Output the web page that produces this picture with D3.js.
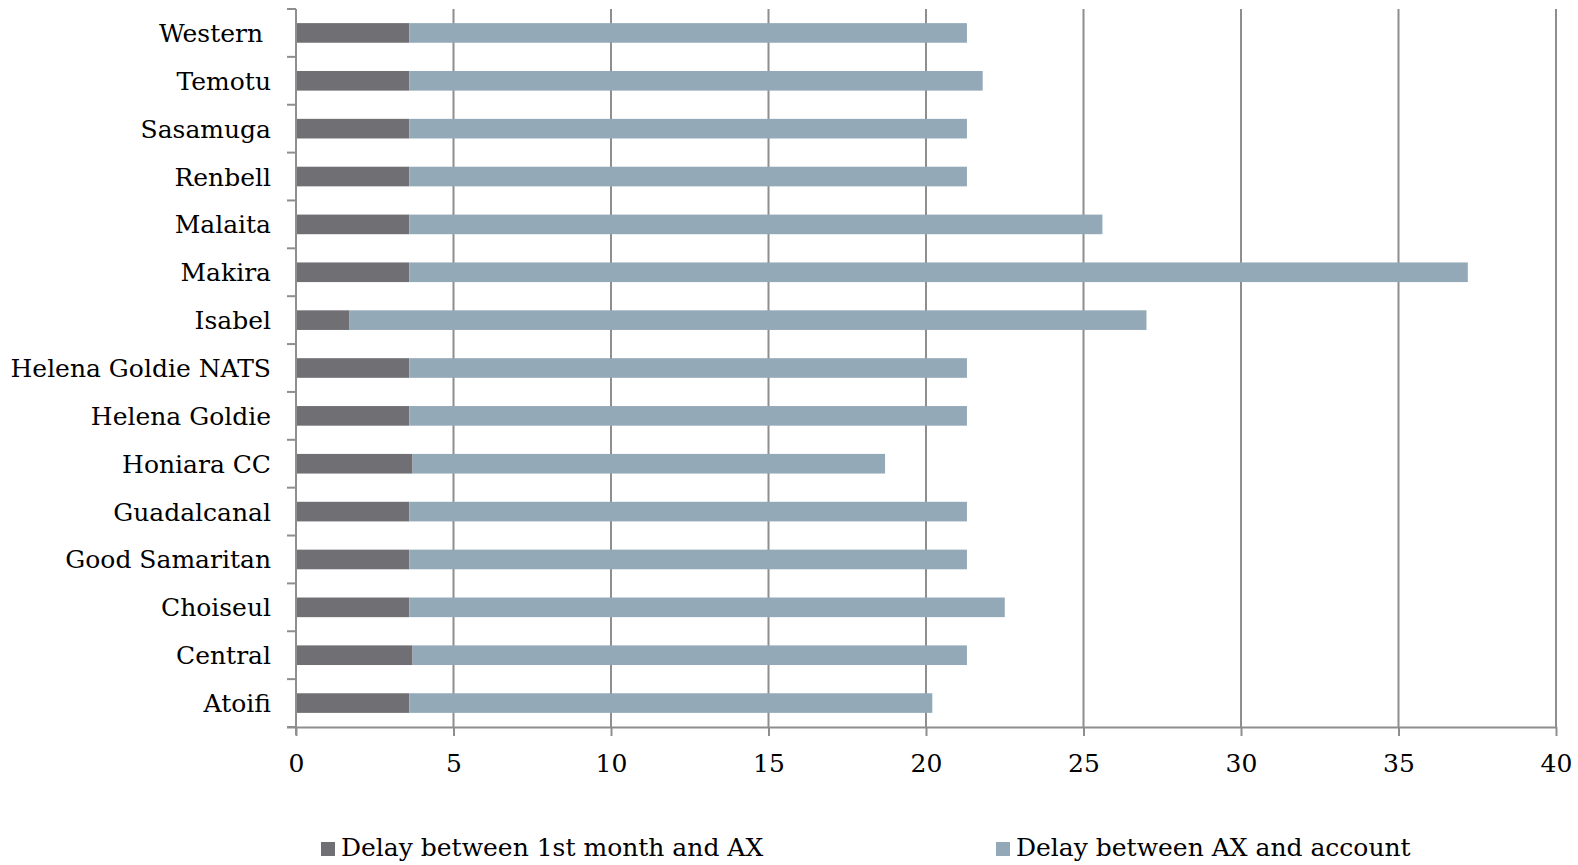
<!DOCTYPE html>
<html>
<head>
<meta charset="utf-8">
<script src="https://cdn.jsdelivr.net/npm/d3@7"></script>
<style>
  html, body { margin: 0; padding: 0; background: #fff; }
  svg { display: block; }
  text { font-family: "DejaVu Serif", "Liberation Serif", serif; fill: #000; }
</style>
</head>
<body>
<svg id="chart" width="1578" height="865"></svg>
<script>
// Categories, bottom to top as in the source (drawn top = last)
const categories = ["Atoifi", "Central", "Choiseul", "Good Samaritan", "Guadalcanal", "Honiara CC",
  "Helena Goldie", "Helena Goldie NATS", "Isabel", "Makira", "Malaita", "Renbell", "Sasamuga", "Temotu", "Western "];
const delayFirstMonthToAX = [3.6, 3.7, 3.6, 3.6, 3.6, 3.7, 3.6, 3.6, 1.7, 3.6, 3.6, 3.6, 3.6, 3.6, 3.6];
const delayAXToAccount    = [16.6, 17.6, 18.9, 17.7, 17.7, 15.0, 17.7, 17.7, 25.3, 33.6, 22.0, 17.7, 17.7, 18.2, 17.7];
const seriesNames = ["Delay between 1st month and AX", "Delay between AX and account"];
const xTicks = [0, 5, 10, 15, 20, 25, 30, 35, 40];

const colors = ["#706f74", "#93a9b8"];
const gridColor = "#8e8e8e";
const fontSize = 25;

const svg = d3.select("#chart");
const mLeft = 296, mRight = 1556, mTop = 9, mBottom = 727;

const x = d3.scaleLinear().domain([0, 40]).range([mLeft, mRight]);
const y = d3.scaleBand().domain(categories.slice().reverse()).range([mTop, mBottom])
  .paddingInner(0.59).paddingOuter(0.295);
const yStep = y.step();

// gridlines
svg.append("g").selectAll("line").data(xTicks.filter(d => d > 0)).join("line")
  .attr("x1", d => x(d)).attr("x2", d => x(d))
  .attr("y1", mTop).attr("y2", mBottom)
  .attr("stroke", gridColor).attr("stroke-width", 2);

// stacked data
const rows = categories.map((c, i) => ({cat: c, a: delayFirstMonthToAX[i], b: delayAXToAccount[i]}));
const stack = d3.stack().keys(["a", "b"])(rows);

svg.append("g").selectAll("g").data(stack).join("g")
  .attr("fill", (d, i) => colors[i])
  .selectAll("rect").data(d => d).join("rect")
  .attr("x", d => x(d[0]))
  .attr("width", d => x(d[1]) - x(d[0]))
  .attr("y", d => y(d.data.cat))
  .attr("height", y.bandwidth());

// y axis line and ticks (at band boundaries)
svg.append("line").attr("x1", mLeft).attr("x2", mLeft).attr("y1", mTop).attr("y2", mBottom + 8)
  .attr("stroke", gridColor).attr("stroke-width", 2);
const bounds = d3.range(categories.length + 1).map(i => mTop + i * yStep);
svg.append("g").selectAll("line").data(bounds).join("line")
  .attr("x1", mLeft - 9).attr("x2", mLeft)
  .attr("y1", d => d).attr("y2", d => d)
  .attr("stroke", gridColor).attr("stroke-width", 2);

// x axis
const xAxis = d3.axisBottom(x).tickValues(xTicks).tickSize(9).tickPadding(10).tickSizeOuter(0);
const gx = svg.append("g").attr("transform", `translate(0,${mBottom})`).call(xAxis);
gx.select(".domain").attr("stroke", gridColor).attr("stroke-width", 2).attr("d", `M${mLeft - 9},0.5H${mRight}`);
gx.selectAll(".tick line").attr("stroke", gridColor).attr("stroke-width", 2);
gx.selectAll(".tick text").attr("font-family", "DejaVu Serif").attr("font-size", fontSize)
  .attr("fill", "#000").attr("dy", "1.05em");

// category labels
svg.append("g").selectAll("text").data(categories).join("text")
  .attr("x", 271)
  .attr("y", d => y(d) + y.bandwidth() / 2 + 9)
  .attr("text-anchor", "end")
  .attr("font-size", fontSize)
  .style("white-space", "pre")
  .text(d => d);

// legend
const legendX = [321, 996];
const lg = svg.append("g").selectAll("g").data(seriesNames).join("g")
  .attr("transform", (d, i) => `translate(${legendX[i]},0)`);
lg.append("rect").attr("x", 0).attr("y", 842).attr("width", 14).attr("height", 14)
  .attr("fill", (d, i) => colors[i]);
lg.append("text").attr("x", 20).attr("y", 856).attr("font-size", fontSize).text(d => d);
</script>
</body>
</html>
